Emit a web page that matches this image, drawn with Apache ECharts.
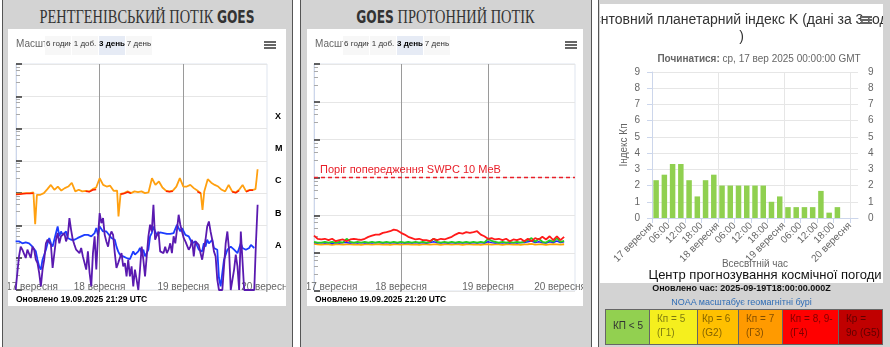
<!DOCTYPE html>
<html><head><meta charset="utf-8">
<script src="https://cdn.jsdelivr.net/npm/echarts@6/dist/echarts.min.js"></script>
<style>
html,body{margin:0;padding:0;}
body{width:890px;height:347px;overflow:hidden;background:#fff;position:relative;font-family:'Liberation Sans',Arial,sans-serif;}
.panel{position:absolute;top:-2px;height:360px;background:#d3d3d3;border:1px solid #555;}
.box{position:absolute;background:#fff;}
.ttl{position:absolute;top:6px;height:22px;line-height:22px;white-space:nowrap;color:#333;font-family:'Liberation Serif','DejaVu Serif',serif;font-size:18px;transform:scaleX(0.8);transform-origin:center;text-align:center;}
.goes{font-family:'Liberation Sans Narrow','DejaVu Sans Condensed','Liberation Sans',sans-serif;font-weight:bold;font-size:17px;}
.btn{position:absolute;top:36px;height:19px;line-height:15px;font-size:8px;color:#333;background:#f7f7f7;text-align:center;overflow:hidden;white-space:nowrap;}
.sel{background:#e6ebf5;font-weight:bold;color:#000;}
.msh{position:absolute;top:37px;font-size:10px;line-height:14px;color:#666;white-space:nowrap;}
.ham{position:absolute;width:12px;height:2px;background:#666;}
.foot{position:absolute;font-size:8.5px;line-height:12px;font-weight:bold;color:#000;white-space:nowrap;}
.cell{position:absolute;top:309px;height:36px;box-sizing:border-box;border:1px solid #666;font-size:10px;line-height:14px;padding:2px 0 0 7px;color:rgba(0,0,0,0.5);white-space:nowrap;overflow:hidden;}
.chart{position:absolute;}
</style>
</head>
<body>
<div class="panel" style="left:2px;width:289px;"></div>
<div class="panel" style="left:300px;width:290px;"></div>
<div class="panel" style="left:598px;width:300px;"></div>

<div class="box" style="left:8px;top:29px;width:278px;height:277px;"></div>
<div class="box" style="left:307px;top:29px;width:276px;height:277px;"></div>
<div class="box" style="left:600px;top:4px;width:283px;height:279px;"></div>

<div id="c1" class="chart" style="left:8px;top:29px;width:278px;height:277px;"></div>
<div id="c2" class="chart" style="left:307px;top:29px;width:276px;height:277px;"></div>
<div id="c3" class="chart" style="left:600px;top:4px;width:283px;height:279px;"></div>

<div class="ttl" style="left:2px;width:290px;">РЕНТГЕНІВСЬКИЙ ПОТІК <span class="goes">GOES</span></div>
<div class="ttl" style="left:300px;width:291px;"><span class="goes">GOES</span> ПРОТОННИЙ ПОТІК</div>

<div class="msh" style="left:16px;">Масштаб</div>
<div class="btn" style="left:45px;width:26px;text-align:left;padding-left:1px;box-sizing:border-box;">6 години</div>
<div class="btn" style="left:72px;width:26px;">1 доб.</div>
<div class="btn sel" style="left:99px;width:26px;">3 день</div>
<div class="btn" style="left:126px;width:26px;">7 день</div>
<div class="ham" style="left:264px;top:41px;"></div>
<div class="ham" style="left:264px;top:44px;"></div>
<div class="ham" style="left:264px;top:47px;"></div>
<div class="foot" style="left:16px;top:293px;">Оновлено 19.09.2025 21:29 UTC</div>

<div class="msh" style="left:315px;">Масштаб</div>
<div class="btn" style="left:343px;width:26px;text-align:left;padding-left:1px;box-sizing:border-box;">6 години</div>
<div class="btn" style="left:370px;width:26px;">1 доб.</div>
<div class="btn sel" style="left:397px;width:26px;">3 день</div>
<div class="btn" style="left:424px;width:26px;">7 день</div>
<div class="ham" style="left:565px;top:41px;"></div>
<div class="ham" style="left:565px;top:44px;"></div>
<div class="ham" style="left:565px;top:47px;"></div>
<div class="foot" style="left:315px;top:293px;">Оновлено 19.09.2025 21:20 UTC</div>

<div class="ham" style="left:860px;top:16px;"></div>
<div class="ham" style="left:860px;top:19px;"></div>
<div class="ham" style="left:860px;top:22px;"></div>

<div style="position:absolute;left:600px;width:283px;top:282px;text-align:center;font-size:9px;line-height:12px;font-weight:bold;color:#111;">Оновлено час: 2025-09-19T18:00:00.000Z</div>
<div style="position:absolute;left:600px;width:283px;top:296px;text-align:center;font-size:9px;line-height:12px;color:#2f6db5;">NOAA масштабує геомагнітні бурі</div>

<div class="cell" style="left:605px;width:45px;background:#92d050;color:#333;padding-top:9px;">КП &lt; 5</div>
<div class="cell" style="left:649px;width:49px;background:#f5ef1e;">Кп = 5<br>(Г1)</div>
<div class="cell" style="left:697px;width:42px;background:#ffc000;padding-left:4px;">Кр = 6<br>(G2)</div>
<div class="cell" style="left:738px;width:45px;background:#ff9a00;">Кп = 7<br>(Г3)</div>
<div class="cell" style="left:782px;width:57px;background:#ff0000;">Кп = 8, 9-<br>(Г4)</div>
<div class="cell" style="left:838px;width:45px;background:#c00000;">Кр =<br>9о (G5)</div>

<script>
// ---------- shared ----------
const dayLabels = ['17 вересня', '18 вересня', '19 вересня', '20 вересня'];

// ---------- X-ray flux (W/m^2), hours from 17 Sep 2025 00:00 UTC ----------
const xrClassLabels = ['', 'A', 'B', 'C', 'M', 'X', ''];
const xrLongSecondary = [
  [0,9.3e-7],[1,9.5e-7],[2,9.8e-7],[3,1.0e-6],[4,1.0e-6],[5,1.05e-6],[5.5,1.1e-7],[6,8.9e-7],[7,8.9e-7],[8,1.0e-6],
  [9,1.33e-6],[10,1.8e-6],[11,1.27e-6],[12,1.6e-6],[13,1.2e-6],[14,1.43e-6],[15,1.6e-6],[16,2.1e-6],[17,1.13e-6],[18,1.27e-6],
  [19,1.13e-6],[20,1.18e-6],[21,1.13e-6],[22,1.33e-6],[23,1.5e-6],[24,2.9e-6],[25,1.8e-6],[26,1.6e-6],[27,1.7e-6],[28,1.18e-6],
  [29,1.2e-6],[29.4,1.9e-7],[30,9.5e-7],[31,1.0e-6],[32,1.13e-6],[33,1.0e-6],[34,1.13e-6],[35,1.07e-6],[36,1.13e-6],[37,1.0e-6],
  [38,1.05e-6],[39,2.9e-6],[40,1.8e-6],[41,2.3e-6],[42,1.5e-6],[43,1.2e-6],[44,1.13e-6],[45,1.2e-6],[46,1.6e-6],[47,2.9e-6],
  [48,1.6e-6],[49,1.6e-6],[50,1.8e-6],[51,1.43e-6],[52,1.2e-6],[53,1.0e-6],[53.5,3.0e-7],[54,1.13e-6],[55,2.7e-6],[56,2.1e-6],
  [57,1.8e-6],[58,1.6e-6],[59,1.27e-6],[60,1.13e-6],[61,1.8e-6],[62,1.13e-6],[63,1.05e-6],[64,1.27e-6],[65,1.8e-6],[66,1.13e-6],
  [67,1.27e-6],[68,1.27e-6],[68.7,1.33e-6],[69,2.6e-6],[69.3,5.5e-6]
];
const xrLongPrimary = [
  [0,9.1e-7],[1,9.3e-7],[2,9.6e-7],[3,9.8e-7],[4,9.7e-7],[5,1.0e-6],[5.2,'-'],
  [20,1.15e-6],[21,1.1e-6],[22,1.25e-6],[23,1.3e-6],[23.5,'-'],
  [30,9.3e-7],[31,9.7e-7],[32,1.08e-6],[33,9.8e-7],[33.5,'-'],
  [43,1.15e-6],[44,1.1e-6],[45,1.15e-6],[45.5,'-'],
  [52,1.12e-6],[53,9.8e-7],[53.3,'-'],
  [62,1.1e-6],[63,1.02e-6],[64,1.2e-6],[64.5,'-'],
  [66,1.1e-6],[67,1.22e-6],[68,1.22e-6]
];
// short channel samples: start hour and cadence (hours)
const xrShortStart = -0.1;
const xrShortStep = 0.482;
const xrShortBlue = [
  3.2e-8,3.2e-8,3.2e-8,3.0e-8,2.8e-8,3.0e-8,3.0e-8,2.8e-8,2.8e-8,2.5e-8,
  2.2e-8,1.85e-8,1.57e-8,8.7e-9,5.4e-9,4.3e-9,8.7e-9,7.7e-9,1.77e-8,2.8e-8,
  4.1e-8,2.8e-8,2.2e-8,2.0e-8,5.8e-8,9.3e-8,4.6e-8,6.5e-8,5.1e-8,4.6e-8,
  6.5e-8,4.1e-8,4.6e-8,3.6e-8,3.2e-8,3.6e-8,3.8e-8,4.1e-8,4.4e-8,4.6e-8,
  4.8e-8,5.1e-8,5.1e-8,5.1e-8,4.8e-8,4.6e-8,5.1e-8,5.8e-8,8.3e-8,5.1e-8,
  9.3e-8,8.3e-8,6.5e-8,7.3e-8,6.5e-8,5.8e-8,4.8e-8,4.1e-8,3.8e-8,3.6e-8,
  2.2e-8,1.57e-8,1.24e-8,1.39e-8,1.1e-8,9.8e-9,9.8e-9,9.8e-9,9.1e-9,8.7e-9,
  1.57e-8,1.24e-8,1.39e-8,1.57e-8,2.0e-8,1.39e-8,1.77e-8,1.1e-8,9.8e-9,1.77e-8,
  4.6e-8,5.8e-8,9.3e-8,6.5e-8,5.1e-8,5.8e-8,6.1e-8,6.5e-8,5.8e-8,5.1e-8,
  5.5e-8,5.8e-8,5.5e-8,5.1e-8,5.8e-8,6.5e-8,1.05e-7,8.3e-8,6.5e-8,8.3e-8,
  6.5e-8,5.1e-8,4.8e-8,4.6e-8,3.6e-8,2.8e-8,3.0e-8,3.2e-8,2.35e-8,1.77e-8,
  2.0e-8,1.57e-8,2.8e-8,2.2e-8,3.6e-8,2.8e-8,3.2e-8,3.6e-8,2.0e-8,2.2e-8,
  1.77e-8,2.35e-9,1.3e-9,3.4e-9,8.7e-9,1.24e-8,1.77e-8,2.0e-8,2.2e-8,2.0e-8,
  1.77e-8,1.57e-8,1.39e-8,1.57e-8,2.8e-8,2.0e-8,1.85e-8,1.77e-8,1.85e-8,2.0e-8,
  2.5e-8,2.2e-8,2.0e-8
];
const xrShortPurple = [
  1.0e-9,3.4e-9,1.1e-8,2.2e-8,1.77e-8,2.0e-8,9.8e-9,1.77e-8,2.0e-8,9.8e-9,
  2.2e-8,1.77e-8,8.7e-9,6.8e-9,3.4e-9,1.3e-9,4.3e-9,8.7e-9,2.8e-8,3.6e-8,
  3.2e-8,2.5e-8,4.8e-9,5.4e-9,3.6e-8,5.8e-8,2.8e-8,4.6e-8,4.1e-8,5.8e-8,
  3.2e-8,4.6e-8,1.69e-7,7.3e-8,3.6e-8,2.5e-8,1.77e-8,1.57e-8,1.39e-8,2.0e-8,
  1.1e-8,1.24e-8,4.3e-9,1.57e-8,3.4e-9,1.3e-9,1.39e-8,4.6e-8,4.3e-9,4.6e-8,
  2.4e-7,1.18e-7,1.69e-7,5.1e-8,3.2e-8,2.2e-8,4.6e-8,6.5e-8,5.1e-8,1.39e-8,
  4.8e-9,6.8e-9,7.7e-9,1.39e-8,5.4e-9,6.8e-9,2.65e-9,8.7e-9,2.65e-9,5.4e-9,
  1.3e-9,4.3e-9,2.1e-9,1.0e-9,4.3e-9,2.2e-8,8.7e-9,2.65e-9,3.0e-9,4.6e-8,
  1.05e-7,6.5e-8,4.35e-7,3.6e-8,3.2e-8,6.5e-8,1.57e-8,1.77e-8,1.39e-8,2.2e-8,
  1.39e-8,1.77e-8,2.8e-8,1.39e-8,4.6e-8,2.8e-8,7.3e-8,2.14e-7,1.05e-7,6.5e-8,
  4.1e-8,3.2e-8,3.6e-8,1.77e-8,2.2e-8,3.6e-8,1.1e-8,3.2e-8,3.6e-8,2.5e-8,
  1.39e-8,8.7e-9,1.77e-8,3.6e-8,9.3e-8,1.33e-7,6.5e-8,3.6e-8,1.57e-8,1.1e-8,
  2.1e-9,1.0e-9,1.0e-9,1.0e-9,5.4e-9,2.8e-8,6.5e-8,1.77e-8,1.0e-9,1.0e-9,
  4.3e-9,1.24e-8,5.4e-9,1.0e-9,6.5e-8,5.8e-8,1.0e-9,1.0e-9,1.0e-9,1.0e-9,
  1.0e-9,1.0e-9,1.0e-9,2.8e-8,4.35e-7
];

// ---------- proton flux (pfu), hourly from 17 Sep 00:00 UTC ----------
const protonThreshold = 10;
const protonThresholdLabel = 'Поріг попередження SWPC 10 МеВ';
const protonRed = [
  0.29,0.24,0.23,0.24,0.22,0.24,0.207,0.22,0.23,0.207,
  0.23,0.24,0.23,0.225,0.24,0.27,0.29,0.31,0.31,0.345,
  0.36,0.38,0.42,0.40,0.345,0.31,0.27,0.25,0.23,0.24,
  0.22,0.22,0.207,0.24,0.22,0.24,0.23,0.25,0.27,0.31,
  0.345,0.33,0.36,0.345,0.36,0.38,0.31,0.28,0.24,0.25,
  0.23,0.24,0.22,0.24,0.207,0.23,0.22,0.24,0.207,0.24,
  0.207,0.25,0.23,0.27,0.23,0.28,0.22,0.28,0.22,0.27
];
const protonGreen = [
  0.20,0.19,0.19,0.20,0.19,0.20,0.19,0.20,0.19,0.24,
  0.20,0.19,0.20,0.19,0.20,0.19,0.20,0.19,0.20,0.19,
  0.20,0.19,0.20,0.19,0.20,0.19,0.20,0.19,0.20,0.19,
  0.20,0.19,0.20,0.24,0.20,0.19,0.20,0.19,0.20,0.19,
  0.20,0.19,0.20,0.19,0.20,0.19,0.20,0.19,0.24,0.21,
  0.20,0.19,0.20,0.19,0.20,0.19,0.20,0.19,0.20,0.22,
  0.25,0.20,0.24,0.20,0.19,0.22,0.20,0.25,0.20,0.21
];
const protonBlue = [
  0.19,0.185,0.19,0.185,0.19,0.18,0.19,0.185,0.19,0.19,
  0.185,0.19,0.185,0.19,0.185,0.19,0.185,0.19,0.19,0.185,
  0.19,0.185,0.19,0.185,0.19,0.185,0.19,0.185,0.19,0.185,
  0.19,0.185,0.19,0.2,0.19,0.185,0.19,0.185,0.19,0.185,
  0.19,0.185,0.19,0.185,0.19,0.185,0.19,0.185,0.2,0.19,
  0.185,0.19,0.185,0.19,0.185,0.19,0.185,0.19,0.19,0.2,
  0.21,0.19,0.2,0.19,0.185,0.2,0.19,0.21,0.19,0.2
];
const protonOrange = [
  0.175,0.17,0.168,0.172,0.17,0.165,0.17,0.172,0.168,0.17,
  0.172,0.168,0.17,0.165,0.17,0.172,0.168,0.17,0.172,0.168,
  0.17,0.165,0.17,0.172,0.168,0.17,0.172,0.168,0.17,0.165,
  0.17,0.172,0.168,0.17,0.172,0.165,0.17,0.172,0.168,0.17,
  0.172,0.165,0.17,0.172,0.168,0.17,0.165,0.17,0.172,0.168,
  0.17,0.172,0.165,0.17,0.172,0.168,0.17,0.165,0.17,0.172,
  0.175,0.168,0.17,0.172,0.165,0.17,0.172,0.17,0.168,0.172
];

// ---------- Kp index, 3-hour bins from 17 Sep 00:00 UTC ----------
const kpValues = [2.33,2.67,3.33,3.33,2.33,1.33,2.33,2.67,2,2,2,2,2,2,1,1.33,0.67,0.67,0.67,0.67,1.67,0.33,0.67];
const kpTitle = 'Орієнтовний планетарний індекс K (дані за 3 години\n)';
const kpSubtitle = '{b|Починатися:} ср, 17 вер 2025 00:00:00 GMT';
const kpCredits = 'Центр прогнозування космічної погоди';
const kpYName = 'Індекс Кп';
const kpXName = 'Всесвітній час';

const FONT = 'Liberation Sans';
const hourly = arr => arr.map((v, i) => [i, v]);
const shortSeries = arr => arr.map((v, i) => [xrShortStart + i * xrShortStep, v]);

function dayAxisLabel(firstPad, lastPad) {
  return {
    margin: -8, fontSize: 10, color: '#666', fontFamily: FONT,
    showMinLabel: true, showMaxLabel: true,
    formatter: (v, i) => {
      const t = dayLabels[Math.round(v / 24)];
      if (v === 0) return '{f|' + t + '}';
      if (v === 72 && lastPad) return '{l|' + t + '}';
      return t;
    },
    rich: {
      f: { padding: [0, 0, 0, firstPad], fontSize: 10, color: '#666', fontFamily: FONT },
      l: { padding: [0, lastPad || 0, 0, 0], fontSize: 10, color: '#666', fontFamily: FONT }
    }
  };
}

// ---------- chart 1 : X-ray ----------
const c1 = echarts.init(document.getElementById('c1'));
c1.setOption({
  animation: false,
  grid: { left: 8, right: 19, top: 35, bottom: 16, show: true, borderColor: '#dfe5ef', borderWidth: 1,
          outerBoundsMode: 'none', containLabel: false },
  xAxis: {
    type: 'value', min: 0, max: 72, interval: 24,
    axisLine: { show: false }, axisTick: { show: false },
    splitLine: { show: true, showMinLine: false, showMaxLine: false, lineStyle: { color: '#9a9a9a', width: 1 } },
    axisLabel: dayAxisLabel(32, 0)
  },
  yAxis: [
    {
      type: 'log', logBase: 10, min: 1e-9, max: 1e-2, splitNumber: 7,
      axisLine: { show: true, lineStyle: { color: '#ccd6eb' } },
      axisTick: { show: true, inside: true, length: 6, lineStyle: { color: '#333', width: 1.5 } },
      minorTick: { show: true, splitNumber: 5, length: 4, lineStyle: { color: '#aaa' } },
      axisLabel: { show: false },
      splitLine: { show: true, lineStyle: { color: '#e6e6e6' } }
    },
    {
      type: 'category', position: 'right', data: xrClassLabels,
      axisLine: { show: false }, axisTick: { show: false }, splitLine: { show: false },
      axisLabel: { interval: 0, margin: 8, fontSize: 9, fontWeight: 'bold', color: '#000', fontFamily: FONT,
                   verticalAlign: 'top', lineHeight: 8 }
    }
  ],
  series: [
    { type: 'line', yAxisIndex: 0, data: shortSeries(xrShortBlue), showSymbol: false, clip: true,
      lineStyle: { color: '#1c3cff', width: 1.8 }, itemStyle: { color: '#1c3cff' } },
    { type: 'line', yAxisIndex: 0, data: shortSeries(xrShortPurple), showSymbol: false, clip: true,
      lineStyle: { color: '#5a1ab0', width: 1.8 }, itemStyle: { color: '#5a1ab0' } },
    { type: 'line', yAxisIndex: 0, data: xrLongSecondary, showSymbol: false, clip: true,
      lineStyle: { color: '#ffa010', width: 1.8 }, itemStyle: { color: '#ffa010' } },
    { type: 'line', yAxisIndex: 0, data: xrLongPrimary, showSymbol: false, clip: true, connectNulls: false,
      lineStyle: { color: '#ff2000', width: 1.5 }, itemStyle: { color: '#ff2000' } }
  ]
});

// ---------- chart 2 : protons ----------
const c2 = echarts.init(document.getElementById('c2'));
c2.setOption({
  animation: false,
  grid: { left: 7, right: 8, top: 35, bottom: 15, show: true, borderColor: '#dfe5ef', borderWidth: 1,
          outerBoundsMode: 'none', containLabel: false },
  xAxis: {
    type: 'value', min: 0, max: 72, interval: 24,
    axisLine: { show: false }, axisTick: { show: false },
    splitLine: { show: true, showMinLine: false, showMaxLine: false, lineStyle: { color: '#9a9a9a', width: 1 } },
    axisLabel: Object.assign(dayAxisLabel(35, 30), { margin: -9 })
  },
  yAxis: {
    type: 'log', logBase: 10, min: 0.01, max: 1e4, splitNumber: 6,
    axisLine: { show: true, lineStyle: { color: '#ccd6eb' } },
    axisTick: { show: true, inside: true, length: 6, lineStyle: { color: '#333', width: 1.5 } },
    minorTick: { show: true, splitNumber: 5, length: 4, lineStyle: { color: '#aaa' } },
    axisLabel: { show: false },
    splitLine: { show: true, lineStyle: { color: '#e6e6e6' } }
  },
  series: [
    { type: 'line', data: hourly(protonOrange), showSymbol: false, clip: true,
      lineStyle: { color: '#ffa500', width: 1.8 }, itemStyle: { color: '#ffa500' } },
    { type: 'line', data: hourly(protonBlue), showSymbol: false, clip: true,
      lineStyle: { color: '#2020ff', width: 1.5 }, itemStyle: { color: '#2020ff' } },
    { type: 'line', data: hourly(protonGreen), showSymbol: false, clip: true,
      lineStyle: { color: '#22cc22', width: 1.8 }, itemStyle: { color: '#22cc22' } },
    { type: 'line', data: hourly(protonRed), showSymbol: false, clip: true,
      lineStyle: { color: '#ff1a1a', width: 1.8 }, itemStyle: { color: '#ff1a1a' },
      markLine: {
        silent: true, symbol: 'none',
        lineStyle: { type: [4, 3], color: '#e8202a', width: 1.3 },
        label: { show: true, position: 'insideStartTop', formatter: protonThresholdLabel,
                 color: '#e8202a', fontSize: 11, fontFamily: FONT, distance: [6, 2] },
        data: [{ yAxis: protonThreshold }]
      } }
  ]
});

// ---------- chart 3 : Kp ----------
const c3 = echarts.init(document.getElementById('c3'));
c3.setOption({
  animation: false,
  title: [
    { text: kpTitle, left: 'center', top: 3,
      textStyle: { fontSize: 14, fontWeight: 'normal', color: '#333', lineHeight: 17, fontFamily: FONT } },
    { text: kpSubtitle, left: 154, top: 45, textAlign: 'center',
      textStyle: { fontSize: 10, fontWeight: 'normal', color: '#666', fontFamily: FONT,
                   rich: { b: { fontWeight: 'bold', fontSize: 10, color: '#666', fontFamily: FONT } } } },
    { text: kpCredits, left: 160, top: 260, textAlign: 'center',
      textStyle: { fontSize: 13, fontWeight: 'normal', color: '#111', fontFamily: FONT } }
  ],
  grid: { left: 52, right: 25, top: 68, bottom: 65, outerBoundsMode: 'none', containLabel: false },
  xAxis: [
    {
      type: 'value', min: 0, max: 75, interval: 6,
      axisLine: { show: true, lineStyle: { color: '#ccd6eb' } },
      axisTick: { show: true, length: 5, lineStyle: { color: '#ccd6eb' } },
      splitLine: { show: false },
      axisLabel: { rotate: 45, fontSize: 10, color: '#666', margin: 6, fontFamily: FONT, showMaxLabel: false,
        formatter: v => v % 24 === 0 ? dayLabels[v / 24] : String(v % 24).padStart(2, '0') + ':00' },
      name: kpXName, nameLocation: 'middle', nameGap: 41, nameMoveOverlap: false,
      nameTextStyle: { color: '#666', fontSize: 10, fontFamily: FONT }
    },
    {
      type: 'value', min: 0, max: 75, interval: 24, position: 'top',
      axisLine: { show: false }, axisTick: { show: false }, axisLabel: { show: false },
      splitLine: { show: true, showMinLine: false, showMaxLine: false, lineStyle: { color: '#e6e6e6' } }
    }
  ],
  yAxis: [
    {
      type: 'value', min: 0, max: 9, interval: 1,
      axisLine: { show: true, lineStyle: { color: '#ccd6eb' } },
      axisLabel: { fontSize: 10, color: '#666', margin: 12, fontFamily: FONT },
      splitLine: { lineStyle: { color: '#e6e6e6' } },
      name: kpYName, nameLocation: 'middle', nameGap: 23, nameMoveOverlap: false,
      nameTextStyle: { color: '#666', fontSize: 10, fontFamily: FONT }
    },
    {
      type: 'value', min: 0, max: 9, interval: 1, position: 'right',
      axisLine: { show: false }, axisTick: { show: false },
      axisLabel: { fontSize: 10, color: '#666', margin: 10, fontFamily: FONT },
      splitLine: { show: false }
    }
  ],
  series: [
    { type: 'bar', xAxisIndex: 0, yAxisIndex: 0, barWidth: 5.5,
      data: kpValues.map((v, i) => [1.5 + 3 * i, v]),
      itemStyle: { color: '#90d050' } }
  ]
});
</script>
</body></html>
